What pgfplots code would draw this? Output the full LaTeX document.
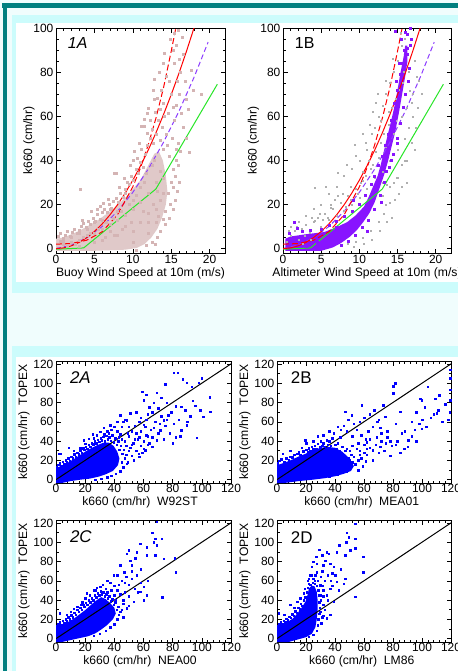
\documentclass[border=0pt]{standalone}
\usepackage{pgfplots}
\pgfplotsset{compat=1.18}
\usepackage{fontspec}
\setmainfont{Liberation Sans}
\definecolor{teal0}{RGB}{0,128,128}
\definecolor{cyanband}{RGB}{204,252,252}
\definecolor{palebg}{RGB}{240,253,253}
\definecolor{pinkc}{RGB}{212,180,180}
\definecolor{purp}{RGB}{136,20,255}
\definecolor{purpl}{RGB}{140,60,255}
\definecolor{greyc}{RGB}{175,175,175}
\definecolor{grn}{RGB}{40,230,40}
\newcommand\lf{\fontsize{12.2}{12.2}\selectfont}
\pgfplotsset{
  baseax/.style={scale only axis, axis line style={line width=0.7bp}, tick align=inside,
    tick style={line width=0.5bp,black}, major tick length=4.5bp, minor tick length=2.5bp,
    every tick label/.append style={font=\fontsize{12}{12}\selectfont},
    /pgf/number format/assume math mode=true,
    xticklabel style={inner sep=2bp}, yticklabel style={inner sep=2.5bp}},
  topax/.style={baseax, width=169bp, height=225bp, xmin=0, xmax=22, ymin=-2, ymax=100,
    xtick={0,5,10,15,20}, ytick={0,20,40,60,80,100}, minor x tick num=4, minor y tick num=3,
    ylabel={k660 (cm/hr)},
    every axis x label/.style={at={(axis description cs:0.5,-0.089)},anchor=center,font=\lf},
    every axis y label/.style={at={(axis description cs:-0.16,0.5)},anchor=center,rotate=90,font=\lf}},
  botax/.style={baseax, width=175bp, height=122bp, xmin=0, xmax=120, ymin=-3.5, ymax=123,
    xtick={0,20,...,120}, ytick={0,20,...,120}, minor x tick num=4, minor y tick num=1,
    ylabel={k660 (cm/hr)\hspace{0.55em}TOPEX},
    xticklabel style={inner sep=1bp},
    every axis x label/.style={at={(axis description cs:0.48,-0.158)},anchor=center,font=\lf},
    every axis y label/.style={at={(axis description cs:-0.183,0.5)},anchor=center,rotate=90,font=\lf}},
  bluepts/.style={only marks, mark=square*, mark size=0.75bp, color=blue},
}
\newcommand\fitlines{%
\addplot[grn, line width=1bp] coordinates {(0,-0.3) (3.6,0.3) (13,27) (21,74.5)};
\addplot[purpl, line width=1bp, dash pattern=on 5bp off 3bp] coordinates {(0,0) (2,1.55) (4,4.9) (6,10) (8,16.9) (10,25.5) (12,36) (14,48.2) (16,62.2) (18,77.9) (19.8,93.6)};
\addplot[red, line width=1bp, dash pattern=on 6bp off 3bp] coordinates {(0,2) (2,2.3) (4,3.8) (6,7.6) (8,15.3) (10,28) (11,36.6) (12,47) (13,59) (14,73) (15,89.5) (15.6,100)};
\addplot[red, line width=1bp] coordinates {(0,0) (1,0.31) (2,1.24) (3,2.79) (4,4.96) (5,7.75) (6,11.16) (7,15.19) (8,19.84) (9,25.11) (10,31) (11,37.5) (12,44.6) (13,52.4) (14,60.8) (15,69.8) (16,79.4) (17,89.6) (18,100.4)};
}
\begin{document}
\begin{tikzpicture}
\useasboundingbox (0,0) rectangle (458bp,-671bp);
\fill[palebg] (0,0) rectangle (458bp,-671bp);
\fill[teal0] (2bp,-3bp) rectangle (458bp,-8bp);
\fill[teal0] (3bp,-3bp) rectangle (7bp,-671bp);
\fill[cyanband] (12bp,-15bp) rectangle (458bp,-293bp);
\fill[white] (16bp,-23bp) rectangle (458bp,-282bp);
\fill[cyanband] (12bp,-346bp) rectangle (458bp,-671bp);
\fill[white] (16bp,-357bp) rectangle (458bp,-671bp);

% ---------- 1A
\begin{axis}[topax, at={(56bp,-253bp)}, xlabel={Buoy Wind Speed at 10m (m/s)}]
\addplot[fill=pinkc!72!white, draw=none] coordinates {(0,-1) (0,4.5) (1,5) (2,6.5) (3,8) (4.3,10.5) (5.5,13) (6.5,15.5) (7.8,19) (9,23) (10,27) (11,31) (11.6,35) (12.2,39) (12.8,43) (13.4,44) (13.9,40) (14.3,33) (14.5,26) (14.3,20) (13.8,14) (13.2,9) (12.4,5) (11.5,2) (10.5,0.3) (9,-0.5) (5,-1) (0,-1)};
\addplot[only marks, mark=square*, mark size=1bp, color=pinkc] coordinates {
(1,2) (2,3) (3,4) (4,6) (5,7) (6,9) (7,11) (8,13) (9,15) (10,18) (11,21) (12,25) (13,30) (13.5,35) (12.5,38) (11.5,30) (10.5,24) (9.5,20) (8.5,17) (7.5,14) (6.5,12) (5.5,9) (4.5,7) (3.5,5) (2.5,2) (1.5,1) (6,4) (8,6) (10,8) (12,12) (13,18) (14,25) (13.5,22) (12,16) (11,12) (9,10) (7,8) (5,3) (3,1) (10,3) (12,7) (13,12) (14,32) (12.8,40) (11,28) (9,25) (7,18) (5,12) (3,7) (1,4) (2,5) (4,9) (6,13) (8,17) (10,22) (11.8,34) (13.2,26) (12.6,20) (11.4,17) (9.8,12) (8.6,9) (7.6,6) (6.4,5)
(0.3,5.5) (0.6,7) (0.9,4.8) (1.2,6.2) (1.5,8) (1.8,5.5) (2.1,7.5) (2.4,9) (2.7,6.8) (3.0,8.5) (3.1,26.8) (0.5,3.5) (1.0,2.8)
(3.3,10) (3.6,11.5) (3.9,9.5) (4.2,12.5) (4.5,11) (4.8,14) (5.1,12.5) (5.4,15.5) (5.7,13.5) (6.0,16.5) (4.6,17) (5.3,18) (3.4,13)
(6.3,18) (6.6,16.5) (6.9,20) (7.2,18.5) (7.5,21.5) (7.8,23) (8.1,21) (8.4,25) (8.7,23.5) (9.0,27) (7.6,34.4) (7.9,34.4) (8.2,28) (6.8,22.5) (9.3,30) (8.9,32) (6.2,20.5) (5.8,19)
(9.5,29) (9.8,33) (10.1,31) (10.4,36) (10.7,34) (11.0,39) (11.3,37) (11.6,43) (11.1,45) (10.6,41) (11.9,47) (12.2,50) (11.5,55.5) (11.9,52.5) (11.9,61.5) (12.3,58) (12.0,63.5) (11.5,58.5) (10.8,48) (10.2,44) (11.1,55.5) (12.5,54) (9.6,38) (10.0,40)
(12.6,72) (12.8,67.6) (12.8,76.6) (12.6,48) (13.0,52) (13.3,58) (13.5,63) (13.2,68) (13.7,72) (13.9,66) (14.1,60) (13.8,55) (14.3,52) (14.5,47) (14.0,45) (14.8,42) (13.6,49) (12.9,62) (13.4,80) (14.1,88.7) (13.9,84) (14.4,78) (14.6,61.5) (14.8,75.9) (15.0,70) (15.2,64) (15.4,58) (15.1,50) (15.6,45) (15.9,38) (15.5,33) (15.0,30) (15.3,36) (15.7,40) (16.2,44) (15.9,48)
(15.4,84) (15.4,97.7) (15.6,92) (16.0,86) (16.5,88) (16.2,80) (16.8,76) (17.0,67.6) (17.6,81) (17.9,72) (18.9,70) (16.3,61.5) (16.6,55) (17.3,43.7) (16.1,70) (15.8,76) (16.4,96) (15.9,99) (15.2,90) (14.9,95) (17.2,63) (16.9,50) (15.7,65)
(11.8,1.5) (12.5,3) (13.2,5) (13.6,8) (14.2,11) (14.8,14) (13.9,13.3) (13.3,14.8) (15.2,18) (15.5,22) (15.8,26) (16.0,30) (15.3,28) (14.9,20) (14.6,25) (12.9,1.8) (10.5,-0.8) (14.2,17)};
\fitlines
\node[anchor=west, font=\fontsize{16}{16}\selectfont\itshape] at (axis cs:1.1,93) {1A};
\end{axis}

% ---------- 1B
\begin{axis}[topax, at={(283bp,-253bp)}, width=168bp, xlabel={Altimeter Wind Speed at 10m (m/s)},
  every axis y label/.style={at={(axis description cs:-0.175,0.5)},anchor=center,rotate=90,font=\lf}]
\addplot[only marks, mark=square*, mark size=0.5bp, color=greyc] coordinates {
(0.5,3) (1,6) (1.5,8) (2,4) (2.5,9) (3,11) (3.5,7) (4,12) (4.5,14) (5,10) (5.5,16) (6,13) (6.5,18) (7,15) (7.5,21) (8,17) (8.5,24) (9,20) (9.5,27) (10,23) (10.5,31) (11,27) (11.5,36) (12,32) (12.5,41) (13,35) (13.5,46) (14,40) (14.5,52) (15,45) (15.5,60) (16,50)
(9,36) (8,33) (7.1,34.4) (10,40) (11,45) (12,55) (12.5,60) (13,65) (13.5,70) (14,75) (14.5,80) (15,85) (15.5,92) (16,95) (16.5,80) (17,70) (17.5,78) (17,60) (16.5,55) (15.5,38) (14.5,30) (13.5,20) (12.5,12) (11.5,8) (10.5,5) (9.5,3) (8.5,2) (12,18) (13,24) (14,28) (15,32) (16,40) (6,25) (5,20) (4,18) (3,15) (2,12) (1,10) (7,28) (11.8,62) (12.8,58) (13.8,62) (14.8,68) (16.3,88) (15.7,75) (17.2,85) (17.8,76) (4.2,27.5) (13,30) (10.5,35)
(13.6,29) (14,21) (14.9,32) (16.2,39.7) (16.6,71.6) (4.1,12.5) (6.3,18.6) (12.2,66) (11.6,52) (10.8,48) (9.5,42) (8.8,28) (7.8,25) (6.8,22) (5.8,14) (3.6,4) (2.6,2) (16.8,48) (17.4,55) (15.2,25) (16.2,30) (14.2,14) (13.2,16)
(0.8,8) (1.8,10) (2.8,6) (3.8,14) (4.8,16) (5.2,13) (6.2,20) (7.2,24) (8.2,19) (8.8,22) (9.8,25) (10.2,30) (10.8,33) (11.2,40) (11.8,38) (12.2,44) (12.8,48) (13.2,52) (13.8,56) (14.2,64) (14.8,58) (15.2,72) (15.8,80) (16.2,64) (16.8,66) (17.2,45) (15.6,28) (14.6,22) (13.6,12) (12.6,8) (11.6,4) (10.6,2) (9.2,1) (5.6,28) (8.4,38) (9.4,47) (10.4,52) (11.4,56) (12.4,70) (13.4,76) (14.4,86) (15.4,98) (17.6,64) (18.2,70)};
\addplot[fill=purp, draw=none] coordinates {(0.3,-1) (0.3,4.5) (1,5.5) (2,6) (3,6.5) (4.2,7) (5.4,7.5) (6.5,9) (7.5,10.5) (8.4,12) (9.5,15) (10.6,19) (11.3,24) (11.9,29) (12.4,33) (12.8,38) (13.2,44) (13.6,50) (14.1,57) (14.5,63) (14.8,68) (15.1,74) (15.4,80) (15.8,87) (16.0,92) (16.3,92) (16.3,85) (16.0,78) (15.6,70) (15.2,62) (14.7,53) (14.2,46) (13.7,39) (13.2,33) (12.6,27) (12.0,21) (11.3,16) (10.5,12) (9.7,8.5) (8.8,5.5) (7.6,2.5) (6.5,0.5) (5,-1)};
\addplot[only marks, mark=square*, mark size=1bp, color=purp] coordinates {
(1.8,9.4) (0.8,7) (2.5,8) (3.5,8.5) (5,9) (6,10.5) (7,12.5) (8,14.5) (9,17) (10,20) (10.8,24) (11.5,29) (12,33) (12.5,38) (13,42) (13.4,47) (13.8,52) (14.2,58) (14.6,66) (15,72) (15.3,79) (15.6,84) (15.9,90) (16.2,97) (16.6,92) (15.5,95) (16.0,98) (14.8,76) (15.2,84) (16.4,76) (16.0,70) (15.7,64) (15.3,57) (14.9,50) (14.4,43) (13.9,37) (13.3,30) (12.7,24) (12.0,18) (11.2,13) (10.4,9.5) (9.5,6) (8.6,3.5) (7.6,1.5) (7.0,9.5) (16.6,100) (16.8,95) (14.7,98.5) (16,86) (16.2,91) (13.5,35) (11,8) (12.8,21) (9.2,22) (14.2,40) (15.0,48) (16.5,82) (16.2,88) (14.5,58) (1.5,12) (4.5,3) (3,1)};
\fitlines
\node[anchor=west, font=\fontsize{16}{16}\selectfont] at (axis cs:1.1,93) {1B};
\end{axis}

% ---------- 2A
\begin{axis}[botax, at={(56bp,-483bp)}, xlabel={k660 (cm/hr)\hspace{0.55em}W92ST}]
\addplot[fill=blue, draw=none] coordinates {(0,-3.5) (0,12) (4,14.5) (8,17.5) (12,21) (16,25) (20,29) (24,32.5) (28,35.5) (32,38) (36,38.5) (39.5,35) (42,29) (43.5,22) (42.5,15) (39,9) (34,5.5) (29,3) (23,1) (17,0) (10,-1.5) (4,-3.5)};
\addplot[bluepts] coordinates {
(0.5,13) (1.5,15.5) (2.5,17) (3.5,14.5) (4.5,18.5) (5.5,16) (6.5,20) (7.5,18) (8.5,22) (9.5,19.5) (10.5,24) (11.5,22) (12.5,26.5) (13.5,24) (14.5,28) (15.5,26.5) (16.5,30.5) (17.5,28) (18.5,32.5) (19.5,31) (20.5,34) (21.5,32) (22.5,36) (23.5,34) (24.5,38) (25.5,36.5) (26.5,40) (27.5,38) (28.5,41.5) (29.5,39.5) (30.5,43) (31.5,41) (32.5,44.5) (33.5,40) (34.5,45.5) (35.5,42) (36.5,44) (37.5,40.5) (38.5,46) (39.5,39) (40.5,43) (41.5,36) (42.5,40) (43.5,31) (44.5,35) (45.5,27) (46.5,31) (47,22) (48,26) (45,18) (46,13) (44,9) (41,6) (38,4) (35,2.5) (31,1) (27,0) (50,30) (52,25) (49,18) (53.2,20) (48.6,16.6) (55,30) (57,24)
(1.8,27) (3,27) (8.7,33) (12,30) (16.7,33) (19,41) (22.4,42.7) (25,47) (28,46) (30.4,49.6) (32.6,54) (35,50) (37,56.5) (38,52) (41.8,60) (42,50) (44,67) (45,55) (47,62) (48.6,61.7) (51,68.7) (50,45) (52,50) (54,56) (55,48) (57,60) (58,64) (60,57) (62,62) (63,68) (64,75) (66,70) (67,80) (59,91) (60,82.6) (62,88) (69,90) (70,74) (72,66) (72,85) (74.9,99) (76,80) (77,67) (80.6,111) (83.6,111) (87,104) (89.7,100.6) (93.2,96.4) (98,100.6) (100,105) (86,75.6) (88.6,72) (93.8,82) (95.4,76.7) (98.9,72) (101,65) (105.7,70.4) (105.3,85.3)
(56.6,27) (61.2,30.5) (65.8,34) (69,41) (71.5,51) (73.7,61.7) (80.6,58) (86,51) (89.7,56.5) (96.6,43.7) (58,35) (60,40) (62,46) (63,45) (65,52) (66,44) (68,60) (70,48) (74,42) (75,56) (78,48) (80,38) (82,44) (84,62) (85,45) (90,60) (92,66) (53,38) (51,33) (56,42) (47,40) (44,47) (40,55) (46,60) (50,55) (55,70) (52,36) (60,32) (64,38) (67,54) (71,58) (76,62) (79,70) (82,76) (58,50) (61,55) (54,42) (48,35) (45,42) (43,44) (49,48) (57,44) (59,28) (63,36) (36,48) (33,47) (26,43) (20,37)};
\addplot[black, line width=1bp] coordinates {(0,0) (125,125)};
\node[anchor=west, font=\fontsize{17}{17}\selectfont\itshape] at (rel axis cs:0.06,0.86) {2A};
\end{axis}

% ---------- 2B
\begin{axis}[botax, at={(277bp,-483bp)}, width=174bp, xlabel={k660 (cm/hr)\hspace{0.55em}MEA01},
  every axis x label/.style={at={(axis description cs:0.487,-0.158)},anchor=center,font=\lf},
  every axis y label/.style={at={(axis description cs:-0.184,0.5)},anchor=center,rotate=90,font=\lf}]
\addplot[fill=blue, draw=none] coordinates {(0,-3.5) (0,15) (5,17.5) (10,20.5) (15,24) (20,27) (25,30.5) (30,33) (35,34) (40,33) (45,29) (50,22) (53,14) (51,9) (46,6) (40,3.5) (33,1.5) (25,0) (15,-1.5) (5,-3.5)};
\addplot[bluepts] coordinates {
(0.5,17) (1.5,19.5) (3,21) (4,27) (5,18.5) (6.5,22) (8,20.5) (9,24) (10.5,23) (12,26) (13.8,27) (15,28.5) (16,26) (17.2,33) (18,29.5) (19.5,41) (20,31) (21,28.5) (22,32.5) (23,30) (24,34) (25,31.5) (26,35) (27,32) (28,37) (29.8,34) (30,40) (31,35) (32,38) (33,34) (34.4,41) (35,36) (36,40) (37,35) (38,43) (39,48) (40,36) (41,32) (42,38) (43,30) (43.6,44) (44,27) (45,34) (46,25) (47,30) (48,32) (49,22) (50,30) (50.5,13) (51,26) (52,18) (53,24) (54,16) (55,32) (56,20) (57,26) (58,22) (59,14) (60,28) (61,19) (62,26) (64,33) (66,20) (56,10) (48,8) (42,5) (36,3)
(9,30) (20,38) (25,40) (28,45) (32,46) (36,50) (42,55) (44,52) (46,56) (47,70.4) (48,50) (49,62) (51.6,67) (52,45) (53,58) (55,52) (57,60) (58,46) (58.5,77) (60,64) (61,42) (62,39) (63,50) (64,68) (66,30.5) (66,55) (67,72) (68.8,44) (69,60) (70,62) (71,54) (71,34) (72,48) (73.4,77) (74.5,65) (75,38) (76,50) (78,40) (79,35) (80.3,89.5) (81.4,100) (80,97) (82,58) (83,40) (84.9,70.4) (86,48) (87.6,32) (88,50) (90.6,41) (92.9,60) (93,45) (95,52) (96,70) (98,58) (98.6,84) (99.8,82.5) (99.8,53) (100,62) (102,75) (103,55) (104,96.4) (106,64) (108,68) (109,84) (110,68.7) (111,72) (112,87.8) (114,60) (116,78) (118,62) (119.5,93) (119.5,82.5) (119.5,113.8) (119.5,105) (119,70)
(45,25) (50,20) (54,16) (58,22) (62,26) (66,20) (70,28) (74,30) (78,25) (82,36) (85,28) (90,34) (96,40) (68,36) (72,40) (76,44) (64,42) (60,36) (56,38) (52,35) (57,30) (62,32)};
\addplot[black, line width=1bp] coordinates {(0,0) (125,125)};
\node[anchor=west, font=\fontsize{17}{17}\selectfont] at (rel axis cs:0.06,0.86) {2B};
\end{axis}

% ---------- 2C
\begin{axis}[botax, at={(56bp,-642bp)}, xlabel={k660 (cm/hr)\hspace{0.55em}NEA00}]
\addplot[fill=blue, draw=none] coordinates {(0,-3.5) (0,12) (4,14.5) (8,17) (12,20.5) (16,25) (20,29.5) (24,35) (28,40) (31,43) (34,41) (37,37) (40,32) (41,26) (39,20) (35,14) (31,9.5) (27,5.5) (22,2.5) (16,0.5) (10,-1.5) (4,-3.5)};
\addplot[bluepts] coordinates {
(0.5,13) (1.5,15) (2.5,17) (3.5,14.5) (4.5,18.5) (5.5,16.5) (6.5,20) (7.5,18) (8.5,22) (9.5,20) (10.5,24.5) (11.5,22) (12.5,27) (13.5,25) (14.5,30) (15.5,28) (16.5,32) (17.5,30) (18.5,35) (19.5,33) (20.5,37) (21.5,35) (22.5,40) (23.5,38) (24.5,42) (25.5,40) (26.5,45) (27.5,43) (28.5,47) (29.5,45) (30.5,49) (31.5,46) (32.5,48) (33.5,44) (34.5,46) (35.5,42) (36.5,44) (37.5,39) (38.5,41) (39.5,35) (40.5,38) (41.5,30) (42.5,33) (43,25) (42,20) (40,15) (37,12) (34,8) (30,5) (26,3) (44,28) (46,22) (45,30)
(2.5,26.4) (7.5,24.7) (10,28) (14.4,33) (18,38) (21.2,47) (25.8,50.4) (28,53) (30.4,53.8) (32,56) (34,52) (35,60) (37,58) (39.5,65.8) (40,55) (41.8,65.8) (42,50) (44,76) (44,28) (45,60) (46.8,69) (47,48) (48.6,88) (48.6,31.5) (49.8,91.5) (50,56) (51,81) (52,76) (52,62) (53.2,38.4) (54.3,83.6) (55.5,89.8) (55.5,65.8) (56,48) (57.8,98.4) (57.8,48.7) (58,72) (60,53.8) (60,40) (62.3,95) (62.3,86.4) (62.3,45) (63,60) (65.8,109.7) (66.9,100) (68,103.5) (68,86.4) (69,96.7) (69,121) (72.6,103.5) (72.8,42.9) (73.7,83) (81.3,83.6) (82,69) (36,30) (38,25) (46,40) (50,44) (54,52) (58,58) (44,46) (47,58) (40,45) (35,48) (31,40) (29,35) (27,50) (23,45) (20,42) (17,35) (12,31) (43,56) (48,64) (52,70) (46,36) (50,34) (41,40) (38,50) (33,38)};
\addplot[black, line width=1bp] coordinates {(0,0) (125,125)};
\node[anchor=west, font=\fontsize{17}{17}\selectfont\itshape] at (rel axis cs:0.06,0.86) {2C};
\end{axis}

% ---------- 2D
\begin{axis}[botax, at={(277bp,-642bp)}, width=174bp, xlabel={k660 (cm/hr)\hspace{0.55em}LM86},
  every axis x label/.style={at={(axis description cs:0.487,-0.158)},anchor=center,font=\lf},
  every axis y label/.style={at={(axis description cs:-0.184,0.5)},anchor=center,rotate=90,font=\lf}]
\addplot[fill=blue, draw=none] coordinates {(0,-3.5) (0,12) (3,14) (7,17) (11,21) (14,26) (17,32) (19.5,38) (21,45) (22,52) (24,55) (26,54) (27.5,48) (28,40) (28,30) (27.5,21) (26.5,12) (24,5) (20,1.5) (14,-1) (8,-3.5)};
\addplot[bluepts] coordinates {
(0.5,13) (1.5,15) (2.5,17) (3.5,15.5) (4.5,18.5) (5.5,17) (6.5,20.5) (7.5,19) (8.5,23) (9.5,21.5) (10.5,25.5) (11.5,24) (12.5,28.5) (13.5,27) (14.5,32) (15.5,30.5) (16.5,36) (17.5,34) (18.5,40) (19.5,43) (20.5,48) (21,53) (22,57) (23,56) (24.5,58) (26,57) (27.5,55) (28.5,50) (29,45) (29,38) (29.5,32) (29,26) (28.5,20) (28,14) (27.5,8) (25,4) (22,2) (30,28) (31,22) (30.5,16) (32,24)
(1.1,26.4) (5,25) (9.2,35) (12,32) (13.8,38.4) (16,42) (18.3,47) (19,52) (20.6,48.7) (21,60) (22,62) (24,74.4) (24,66) (25,62) (26.4,65.8) (27.5,69) (27.5,77.8) (28,60) (29.8,55.5) (29.8,28) (30,64) (31,86.4) (31,70) (32,76) (32,35) (33.3,81) (33,60) (34.4,89.8) (34.4,45) (34.4,21) (35.6,88) (36.7,77.8) (36.7,52) (36.7,24.7) (38,68) (39,74.4) (39,38.4) (40,65.8) (41.3,89.8) (41.3,59) (42.4,50.4) (43,96.7) (44,72) (45.9,57) (47,86.4) (47,62.4) (47.7,100) (48,109.7) (49.3,105) (50.5,91.5) (53.9,119) (53.9,103.5) (53.9,94) (53.9,43.5) (59.6,84.7) (59.6,69) (32,50) (35,40) (38,55) (30,45) (33,30) (31,55) (27,85) (29,92) (25,80) (30,40) (32,44) (26,60) (23,66) (35,66) (37,60)};
\addplot[black, line width=1bp] coordinates {(0,0) (125,125)};
\node[anchor=west, font=\fontsize{17}{17}\selectfont] at (rel axis cs:0.06,0.86) {2D};
\end{axis}
\end{tikzpicture}
\end{document}
